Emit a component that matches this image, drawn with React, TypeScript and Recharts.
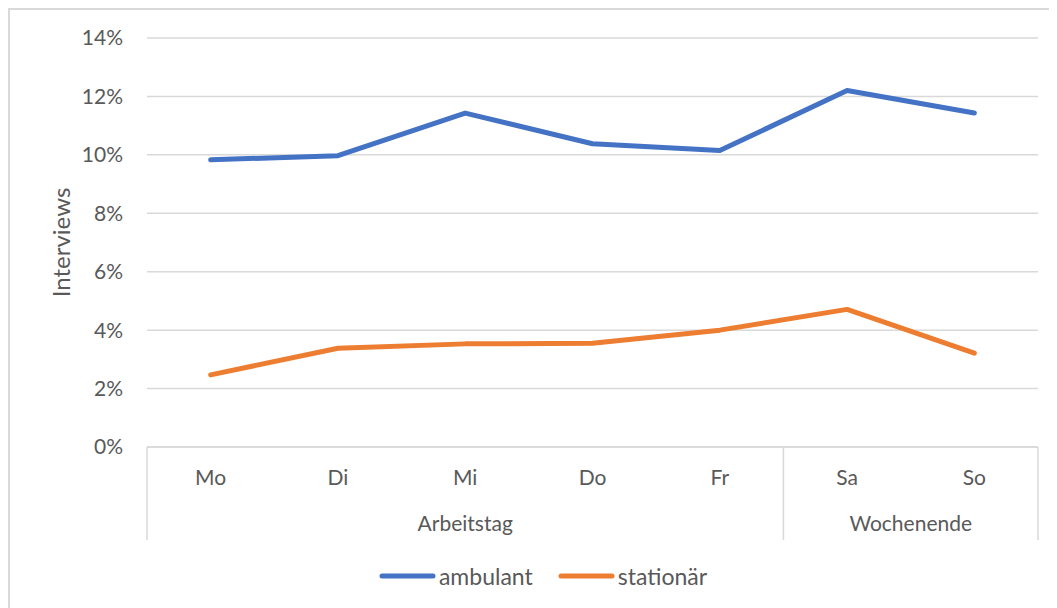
import * as Recharts from 'recharts';
import { LineChart, Line, XAxis, YAxis, CartesianGrid, Legend } from 'recharts';

const days = ['Mo', 'Di', 'Mi', 'Do', 'Fr', 'Sa', 'So'];
const dayGroups = ['Arbeitstag', 'Arbeitstag', 'Arbeitstag', 'Arbeitstag', 'Arbeitstag', 'Wochenende', 'Wochenende'];
const ambulant = [9.83, 9.97, 11.43, 10.38, 10.15, 12.2, 11.43];
const stationaer = [2.47, 3.38, 3.53, 3.55, 4.0, 4.71, 3.21];
const yTicks = [0, 2, 4, 6, 8, 10, 12, 14];

const series = [
  { key: 'ambulant', name: 'ambulant', color: '#4472C4' },
  { key: 'stationaer', name: 'stationär', color: '#ED7D31' },
];

const data = days.map((day, i) => ({
  day,
  group: dayGroups[i],
  ambulant: ambulant[i],
  stationaer: stationaer[i],
}));

const W = 1047;
const H = 598;
const MARGIN = { top: 28, right: 19, left: 0, bottom: 38 };
const Y_W = 137;
const X_H = 93;
const TEXT = '#595959';
const GRID = '#d9d9d9';

const usePlot: () => any = (Recharts as any).usePlotArea ?? (() => undefined);

function DayTick(props: any) {
  const { x, y, payload } = props;
  const plot = usePlot();
  const axisW = plot?.width ?? props.width ?? W - MARGIN.left - MARGIN.right - Y_W;
  const bw = axisW / days.length;
  const i = payload?.index ?? props.index ?? 0;
  const g = dayGroups[i];
  const isStart = i === 0 || dayGroups[i - 1] !== g;
  const isLast = i === days.length - 1;
  const count = dayGroups.filter((d) => d === g).length;

  return (
    <g>
      <text x={x} y={y + 38} textAnchor="middle" fill={TEXT} fontSize={21}>
        {payload.value}
      </text>
      {isStart && (
        <>
          <line x1={x - bw / 2} x2={x - bw / 2} y1={y} y2={y + X_H} stroke={GRID} strokeWidth={1.5} />
          <text x={x - bw / 2 + (count * bw) / 2} y={y + 84} textAnchor="middle" fill={TEXT} fontSize={21}>
            {g}
          </text>
        </>
      )}
      {isLast && (
        <line x1={x + bw / 2} x2={x + bw / 2} y1={y} y2={y + X_H} stroke={GRID} strokeWidth={1.5} />
      )}
    </g>
  );
}

function LegendContent() {
  return (
    <div style={{ display: 'flex', justifyContent: 'center', alignItems: 'center', height: 30, gap: 25 }}>
      {series.map((s) => (
        <div key={s.key} style={{ display: 'flex', alignItems: 'center' }}>
          <svg width={57} height={10}>
            <line x1={3} x2={54} y1={5} y2={5} stroke={s.color} strokeWidth={5} strokeLinecap="round" />
          </svg>
          <span style={{ color: TEXT, fontSize: 23, marginLeft: 3 }}>{s.name}</span>
        </div>
      ))}
    </div>
  );
}

export default function App() {
  return (
    <div
      style={{
        width: W,
        height: H,
        borderTop: `2px solid ${GRID}`,
        borderLeft: `2px solid ${GRID}`,
        fontFamily: 'Lato, sans-serif',
        background: '#fff',
      }}
    >
      <LineChart width={W} height={H} data={data} margin={MARGIN}>
        <CartesianGrid vertical={false} stroke={GRID} strokeWidth={1.5} />
        <XAxis
          dataKey="day"
          scale="band"
          interval={0}
          height={X_H}
          axisLine={{ stroke: GRID, strokeWidth: 1.5 }}
          tickLine={false}
          tickSize={0}
          tickMargin={0}
          tick={<DayTick />}
        />
        <YAxis
          domain={[0, 14]}
          ticks={yTicks}
          width={Y_W}
          axisLine={false}
          tickLine={false}
          tickSize={0}
          tickMargin={24}
          tick={{ fill: TEXT, fontSize: 21 }}
          tickFormatter={(v: number) => `${v}%`}
          label={{ value: 'Interviews', angle: -90, position: 'center', dx: -17, fill: TEXT, fontSize: 24 }}
        />
        {series.map((s) => (
          <Line
            key={s.key}
            type="linear"
            dataKey={s.key}
            name={s.name}
            stroke={s.color}
            strokeWidth={5}
            strokeLinecap="round"
            strokeLinejoin="round"
            dot={false}
            activeDot={false}
            isAnimationActive={false}
          />
        ))}
        <Legend verticalAlign="bottom" wrapperStyle={{ bottom: 17, left: 19 }} content={<LegendContent />} />
      </LineChart>
    </div>
  );
}
